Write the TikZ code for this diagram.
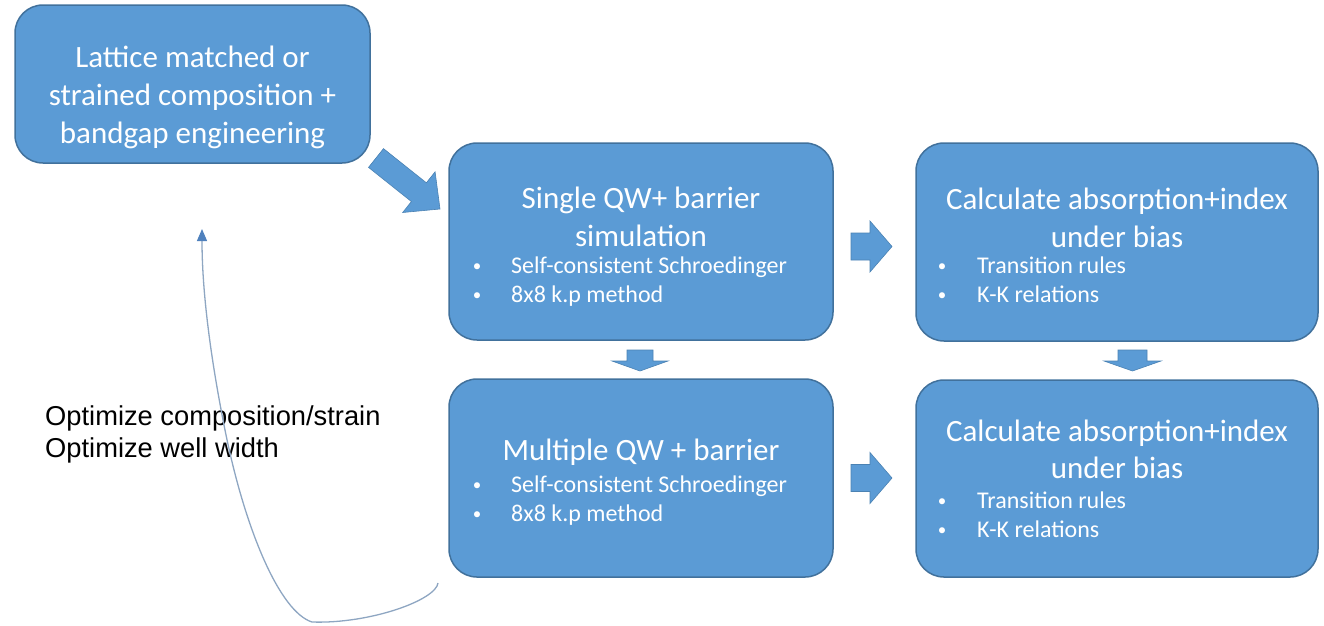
\documentclass[tikz,border=0pt]{standalone}
\usepackage{fontspec}
\setmainfont{Carlito}
\newfontfamily\notefont{Liberation Sans}
\usetikzlibrary{calc,arrows.meta}

\definecolor{boxblue}{HTML}{5B9BD5}
\definecolor{boxedge}{HTML}{41719C}
\definecolor{loopline}{HTML}{8EA6C2}
\definecolor{tipblue}{HTML}{4F81BD}

\tikzset{
  stage/.style={draw=boxedge, line width=1.5pt, fill=boxblue, rounded corners=28pt, inner sep=0pt},
  title/.style={anchor=base, text=white, font=\fontsize{31}{38}\selectfont, inner sep=0pt},
  item/.style={anchor=base west, text=white, font=\fontsize{24}{29}\selectfont, inner sep=0pt},
  dot/.style={anchor=base, text=white, font=\fontsize{17}{29}\selectfont, inner sep=0pt},
  note/.style={anchor=base west, text=black, font=\notefont\fontsize{27.3}{34}\selectfont, inner sep=0pt},
  blockfill/.style={fill=boxblue, draw=boxedge!60!boxblue, line width=0.6pt, line join=miter},
  loop/.style={draw=loopline, line width=1.3pt},
}

% block arrow from tail #1 to tip #2: shaft half-width #3, head half-width #4, head length #5
\newcommand\blockarrow[5]{%
  \coordinate (ba-base) at ($(#2)!#5!(#1)$);
  \path[blockfill] ($(#1)!#3!90:(#2)$) -- ($(ba-base)!#3!90:(#2)$) -- ($(ba-base)!#4!90:(#2)$)
    -- (#2) -- ($(ba-base)!#4!-90:(#2)$) -- ($(ba-base)!#3!-90:(#2)$) -- ($(#1)!#3!-90:(#2)$) -- cycle;}

\begin{document}
\begin{tikzpicture}[x=1pt, y=-1pt]
  \useasboundingbox (0,0) rectangle (1324,625);

  % stages
  \node[stage, minimum width=355pt, minimum height=158pt] (A) at (192.5,84) {};
  \node[stage, minimum width=384pt, minimum height=197pt] (B) at (641,241.5) {};
  \node[stage, minimum width=402pt, minimum height=198pt] (C) at (1117,242) {};
  \node[stage, minimum width=384pt, minimum height=198pt] (D) at (641,478) {};
  \node[stage, minimum width=402pt, minimum height=197pt] (E) at (1117,478.5) {};

  % texts of the first stage
  \node[title] (A1) at (192.5,67) {Lattice matched or};
  \node[title] (A2) at (192.5,105) {strained composition +};
  \node[title] (A3) at (192.5,143) {bandgap engineering};

  % single well
  \node[title] (B1) at (641,208) {Single QW+ barrier};
  \node[title] (B2) at (641,246) {simulation};
  \node[dot]  (Bd1) at (477,271) {\textbullet};
  \node[item] (Bi1) at (511,273) {Self-consistent Schroedinger};
  \node[dot]  (Bd2) at (477,300) {\textbullet};
  \node[item] (Bi2) at (511,302) {8x8 k.p method};

  % absorption, single well
  \node[title] (C1) at (1117,209) {Calculate absorption+index};
  \node[title] (C2) at (1117,247) {under bias};
  \node[dot]  (Cd1) at (942,271) {\textbullet};
  \node[item] (Ci1) at (977,273) {Transition rules};
  \node[dot]  (Cd2) at (942,300) {\textbullet};
  \node[item] (Ci2) at (977,302) {K-K relations};

  % multiple wells
  \node[title] (D1) at (641,460) {Multiple QW + barrier};
  \node[dot]  (Dd1) at (477,490) {\textbullet};
  \node[item] (Di1) at (511,492) {Self-consistent Schroedinger};
  \node[dot]  (Dd2) at (477,519) {\textbullet};
  \node[item] (Di2) at (511,521) {8x8 k.p method};

  % absorption, multiple wells
  \node[title] (E1) at (1117,441) {Calculate absorption+index};
  \node[title] (E2) at (1117,478) {under bias};
  \node[dot]  (Ed1) at (942,506) {\textbullet};
  \node[item] (Ei1) at (977,508) {Transition rules};
  \node[dot]  (Ed2) at (942,535) {\textbullet};
  \node[item] (Ei2) at (977,537) {K-K relations};

  % optimisation note
  \node[note] (N1) at (45,425) {Optimize composition/strain};
  \node[note] (N2) at (45,457) {Optimize well width};

  % block arrows between stages
  \coordinate (ab-tail) at (376,158);   \coordinate (ab-tip) at (440,209);
  \coordinate (bc-tail) at (851,246.5); \coordinate (bc-tip) at (892,246.5);
  \coordinate (de-tail) at (851,478);   \coordinate (de-tip) at (892,478);
  \coordinate (bd-tail) at (640,350);   \coordinate (bd-tip) at (640,371);
  \coordinate (ce-tail) at (1132.5,350);\coordinate (ce-tip) at (1132.5,371);
  \blockarrow{ab-tail}{ab-tip}{12pt}{26pt}{27pt}
  \blockarrow{bc-tail}{bc-tip}{13.5pt}{25.5pt}{22pt}
  \blockarrow{de-tail}{de-tip}{13.5pt}{25.5pt}{22pt}
  \blockarrow{bd-tail}{bd-tip}{13pt}{28pt}{10pt}
  \blockarrow{ce-tail}{ce-tip}{14.5pt}{28.5pt}{10pt}

  % feedback loop back to the first stage
  \coordinate (loop-start) at (438,583);
  \coordinate (loop-end) at (202,229);
  \draw[loop, -{Triangle[width=10pt,length=12pt,color=tipblue]}]
    (loop-start) .. controls (436,600) and (370,624) .. (312,622)
    .. controls (280,612) and (245,530) .. (225,430)
    .. controls (210,355) and (202,290) .. (loop-end);
\end{tikzpicture}
\end{document}
